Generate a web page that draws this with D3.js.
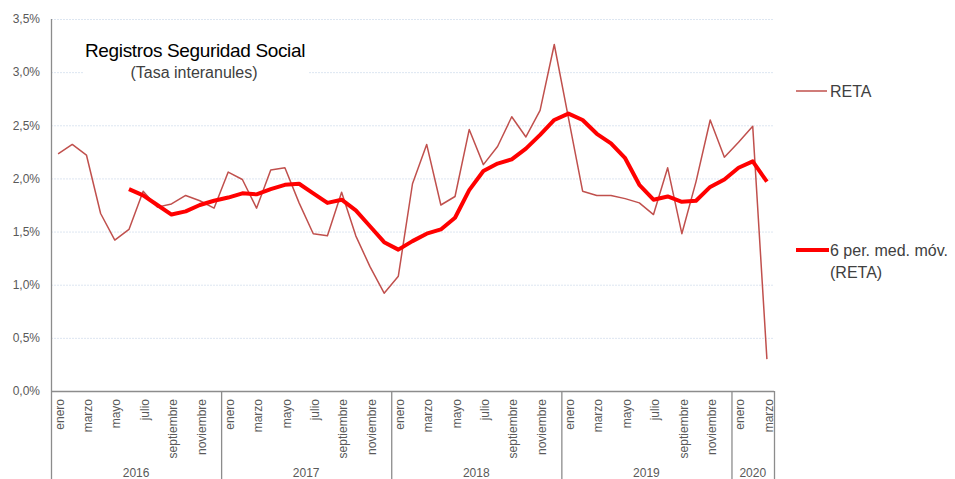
<!DOCTYPE html>
<html>
<head>
<meta charset="utf-8">
<script src="https://cdn.jsdelivr.net/npm/d3@7"></script>
<style>
  html, body { margin: 0; padding: 0; background: #fff; }
  svg { display: block; font-family: "Liberation Sans", Arial, sans-serif; }
</style>
</head>
<body>
<svg id="chart" width="955" height="479"></svg>
<script>
// ---- Data ----
const monthNames = ["enero","febrero","marzo","abril","mayo","junio","julio","agosto","septiembre","octubre","noviembre","diciembre"];
const years = ["2016","2017","2018","2019","2020"];
const monthsPerYear = [12, 12, 12, 12, 3];
const labeledMonths = ["enero","marzo","mayo","julio","septiembre","noviembre"];
const yTicks = [0, 0.5, 1.0, 1.5, 2.0, 2.5, 3.0, 3.5];

const reta = [
  2.23, 2.32, 2.22, 1.67, 1.42, 1.52, 1.88, 1.73, 1.76, 1.84, 1.79, 1.72,
  2.06, 1.99, 1.72, 2.08, 2.10, 1.77, 1.48, 1.46, 1.87, 1.46, 1.17, 0.92,
  1.08, 1.95, 2.32, 1.75, 1.83, 2.46, 2.13, 2.30, 2.58, 2.39, 2.64, 3.26,
  2.57, 1.88, 1.84, 1.84, 1.81, 1.77, 1.66, 2.10, 1.48, 1.97, 2.55, 2.20,
  2.34, 2.49, 0.30
];
const movAvg = [
  null, null, null, null, null, 1.90, 1.84, 1.75, 1.66, 1.69, 1.75, 1.79,
  1.82, 1.86, 1.85, 1.90, 1.94, 1.95, 1.86, 1.77, 1.80, 1.70, 1.55, 1.40,
  1.33, 1.41, 1.48, 1.52, 1.63, 1.89, 2.07, 2.14, 2.18, 2.28, 2.41, 2.55,
  2.61, 2.55, 2.42, 2.33, 2.19, 1.94, 1.80, 1.83, 1.78, 1.79, 1.92, 1.99,
  2.10, 2.16, 1.97
];

const seriesNames = ["RETA", "6 per. med. móv. (RETA)"];
const titleText = "Registros Seguridad Social";
const subtitleText = "(Tasa interanules)";

// ---- Build category list ----
const cats = [];
years.forEach((yr, yi) => {
  for (let m = 0; m < monthsPerYear[yi]; m++) cats.push({ year: yr, month: monthNames[m], idx: cats.length });
});

// ---- Layout ----
const svg = d3.select("#chart");
const L = 51, R = 774, T = 19, B = 391, H = 479;
const x = d3.scaleBand().domain(cats.map(d => d.idx)).range([L, R]).paddingInner(0).paddingOuter(0);
const y = d3.scaleLinear().domain([0, 3.5]).range([B, T]);
const cx = i => x(i) + x.bandwidth() / 2;

const loc = d3.formatLocale({ decimal: ",", thousands: ".", grouping: [3], currency: ["", "€"] });
const fmt = v => loc.format(".1f")(v) + "%";

// gridlines
svg.append("g").selectAll("line").data(yTicks.filter(t => t > 0)).join("line")
  .attr("x1", L).attr("x2", R)
  .attr("y1", d => y(d) + 0.5).attr("y2", d => y(d) + 0.5)
  .attr("stroke", "#dde6f1").attr("stroke-width", 1).attr("stroke-dasharray", "2,1");

// y axis labels
const yAxis = d3.axisLeft(y).tickValues(yTicks).tickSize(0).tickPadding(11).tickFormat(fmt);
const gy = svg.append("g").attr("transform", `translate(${L},0)`).call(yAxis);
gy.select(".domain").remove();
gy.selectAll("text").attr("fill", "#595959").style("font-size", "12px")
  .style("font-family", "'Liberation Sans', Arial, sans-serif");

// title box (white background masking gridlines)
svg.append("rect").attr("x", 83).attr("y", 32).attr("width", 225).attr("height", 56).attr("fill", "#fff");
svg.append("text").attr("x", 195).attr("y", 57).attr("text-anchor", "middle")
  .style("font-size", "19px").style("letter-spacing", "-0.35px").attr("fill", "#000").text(titleText);
svg.append("text").attr("x", 194).attr("y", 78).attr("text-anchor", "middle")
  .style("font-size", "16px").attr("fill", "#404040").text(subtitleText);

// x axis (months) via d3 axis
const labeled = cats.filter(d => labeledMonths.includes(d.month)).map(d => d.idx);
const xAxis = d3.axisBottom(x).tickValues(labeled).tickSize(0).tickFormat(i => cats[i].month);
const gx = svg.append("g").attr("transform", `translate(0,${B})`).call(xAxis);
gx.select(".domain").remove();
gx.selectAll("text")
  .attr("transform", "rotate(-90)")
  .attr("text-anchor", "end")
  .attr("x", -8).attr("y", 0).attr("dy", "0.35em")
  .attr("fill", "#595959").style("font-size", "12px")
  .style("font-family", "'Liberation Sans', Arial, sans-serif");
gx.selectAll(".tick").attr("transform", d => `translate(${cx(d) + 1.5},0)`);

// axis lines
const axisColor = "#8c8c8c";
svg.append("line").attr("x1", L + 0.5).attr("x2", L + 0.5).attr("y1", T).attr("y2", H).attr("stroke", axisColor).attr("stroke-width", 1.3);
svg.append("line").attr("x1", L).attr("x2", R).attr("y1", B + 0.5).attr("y2", B + 0.5).attr("stroke", axisColor).attr("stroke-width", 1.3);

// year groups
let start = 0;
const yearGroups = years.map((yr, yi) => {
  const g = { year: yr, first: start, last: start + monthsPerYear[yi] - 1 };
  start += monthsPerYear[yi];
  return g;
});
svg.append("g").selectAll("line").data(yearGroups).join("line")
  .attr("x1", d => x(d.last) + x.bandwidth() + 0.5).attr("x2", d => x(d.last) + x.bandwidth() + 0.5)
  .attr("y1", B).attr("y2", H).attr("stroke", axisColor).attr("stroke-width", 1.3);
svg.append("g").selectAll("text").data(yearGroups).join("text")
  .attr("x", d => (x(d.first) + x(d.last) + x.bandwidth()) / 2)
  .attr("y", 477).attr("text-anchor", "middle")
  .attr("fill", "#595959").style("font-size", "12px").text(d => d.year);

// lines
const lineGen = d3.line().defined(d => d.v != null).x(d => cx(d.i)).y(d => y(d.v));
svg.append("path").datum(reta.map((v, i) => ({ i, v })))
  .attr("d", lineGen).attr("fill", "none").attr("stroke", "#c0504d").attr("stroke-width", 1.5)
  .attr("stroke-linejoin", "round");
svg.append("path").datum(movAvg.map((v, i) => ({ i, v })))
  .attr("d", lineGen).attr("fill", "none").attr("stroke", "#ff0000").attr("stroke-width", 4)
  .attr("stroke-linejoin", "round");

// legend
const leg = svg.append("g");
leg.append("line").attr("x1", 796).attr("x2", 827).attr("y1", 91).attr("y2", 91)
  .attr("stroke", "#c0504d").attr("stroke-width", 1.5);
leg.append("text").attr("x", 830).attr("y", 97).style("font-size", "16px").attr("fill", "#404040").text(seriesNames[0]);
leg.append("line").attr("x1", 796).attr("x2", 829).attr("y1", 250).attr("y2", 250)
  .attr("stroke", "#ff0000").attr("stroke-width", 4);
const t2 = leg.append("text").attr("x", 830).attr("y", 256).style("font-size", "16px").attr("fill", "#404040");
t2.append("tspan").attr("x", 830).attr("dy", 0).text("6 per. med. móv.");
t2.append("tspan").attr("x", 830).attr("dy", 22).text("(RETA)");
</script>
</body>
</html>
